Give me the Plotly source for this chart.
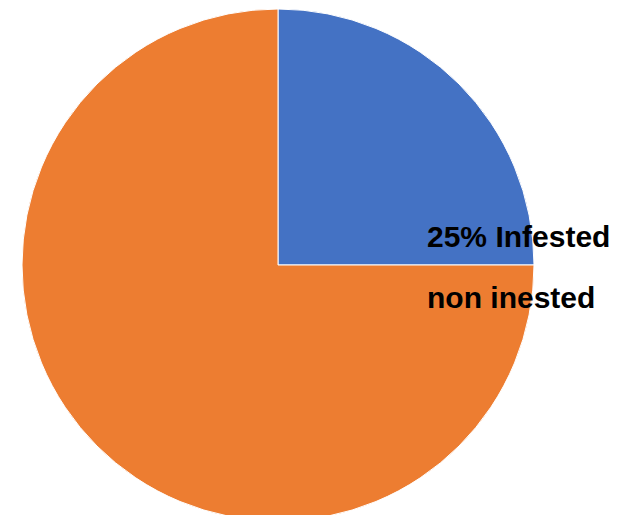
import plotly.graph_objects as go

labels = ["Infested", "non inested"]
values = [25, 75]
colors = ["#4472C4", "#ED7D31"]
label_texts = ["25% Infested", "non inested"]

W, H = 622, 515
# page body has an 8px margin; positions below are in figure pixels
cx, cy, r = 270, 257, 256

fig = go.Figure(go.Pie(
    labels=labels, values=values, sort=False, direction="clockwise", rotation=0,
    marker=dict(colors=colors, line=dict(color="white", width=1)),
    textinfo="none", hoverinfo="label+percent",
    domain=dict(x=[(cx - r) / W, (cx + r) / W], y=[(H - cy - r) / H, (H - cy + r) / H]),
))

for txt, ypx in zip(label_texts, [228, 289]):
    fig.add_annotation(text="<b>%s</b>" % txt, x=417 / W, y=1 - ypx / H, xref="paper", yref="paper",
                       xanchor="left", yanchor="middle", showarrow=False,
                       font=dict(family="Liberation Sans", size=30, color="black"))

fig.update_layout(width=W, height=H, margin=dict(l=0, r=0, t=0, b=0), showlegend=False,
                  paper_bgcolor="white", plot_bgcolor="white")
fig.write_html("out.html")
